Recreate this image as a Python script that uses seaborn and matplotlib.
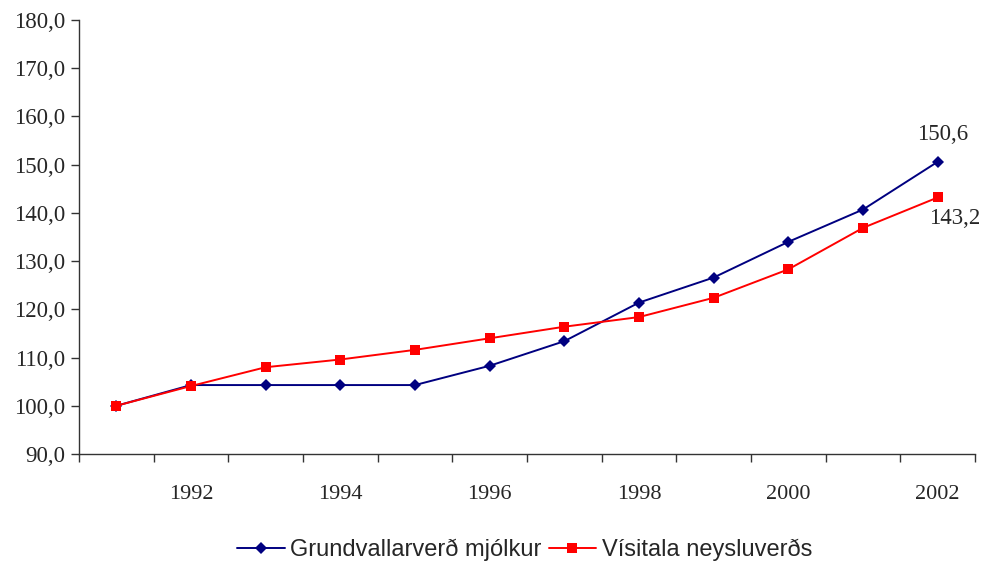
import matplotlib
matplotlib.use('Agg')
import matplotlib.pyplot as plt
import seaborn as sns
import pandas as pd
import numpy as np

years = [1991, 1992, 1993, 1994, 1995, 1996, 1997, 1998, 1999, 2000, 2001, 2002]
milk = [100.0, 104.3, 104.3, 104.3, 104.3, 108.3, 113.4, 121.4, 126.6, 134.0, 140.7, 150.6]
cpi = [100.0, 104.1, 108.0, 109.6, 111.6, 114.0, 116.4, 118.4, 122.4, 128.3, 136.9, 143.2]
series_names = ['Grundvallarverð mjólkur', 'Vísitala neysluverðs']
end_labels = ['150,6', '143,2']

sns.set_theme(style='white')
plt.rcParams['font.family'] = ['Liberation Serif', 'DejaVu Serif']

pos = np.arange(len(years))
df = pd.DataFrame({
    'pos': np.concatenate([pos, pos]),
    'value': milk + cpi,
    'series': [series_names[0]] * len(years) + [series_names[1]] * len(years),
})

fig = plt.figure(figsize=(9.81, 5.64), dpi=100)
ax = fig.add_axes([0.0805, 0.195, 0.9134, 0.7695])

sns.lineplot(data=df, x='pos', y='value', hue='series', style='series',
             palette=['#000080', '#FF0000'], markers=['D', 's'], dashes=False,
             markersize=6.5, markeredgewidth=0, linewidth=1.4, ax=ax, legend=True)

ax.set_xlim(-0.5, len(years) - 0.5)
ax.set_ylim(90, 180)
ax.set_yticks(np.arange(90, 181, 10))
ax.set_yticklabels([f'{v:.1f}'.replace('.', ',') for v in np.arange(90, 181, 10)], fontsize=16.5)

# tick marks between categories, labels under every other year
ax.set_xticks(np.arange(-0.5, len(years), 1.0))
ax.set_xticklabels([])
lab_pos = [p for p, y in zip(pos, years) if y % 2 == 0]
ax.set_xticks(lab_pos, minor=True)
ax.set_xticklabels([str(years[p]) for p in lab_pos], minor=True, fontsize=16)
ax.tick_params(axis='x', which='minor', bottom=True, length=0, pad=22)
ax.tick_params(axis='x', which='major', bottom=True, length=6, width=1, color='#333333', direction='out')
ax.tick_params(axis='y', left=True, length=6, width=1, color='#333333', direction='out', pad=4)
ax.set_xlabel('')
ax.set_ylabel('')

for s in ['top', 'right']:
    ax.spines[s].set_visible(False)
for s in ['left', 'bottom']:
    ax.spines[s].set_color('#333333')
    ax.spines[s].set_linewidth(1)

ax.text(pos[-1] + 0.07, milk[-1] + 3.4, end_labels[0], ha='center', va='bottom', fontsize=16.5)
ax.text(pos[-1] - 0.12, cpi[-1] - 2.2, end_labels[1], ha='left', va='top', fontsize=16.5)

handles, labels = ax.get_legend_handles_labels()
ax.legend_.remove()
fig.legend(handles, labels, loc='center', bbox_to_anchor=(0.535, 1 - 550 / 564),
           ncol=2, frameon=False, handlelength=2.0, handletextpad=0.25, columnspacing=0.3,
           prop={'family': 'Liberation Sans', 'size': 17})

fig.savefig('out.png', dpi=100)
